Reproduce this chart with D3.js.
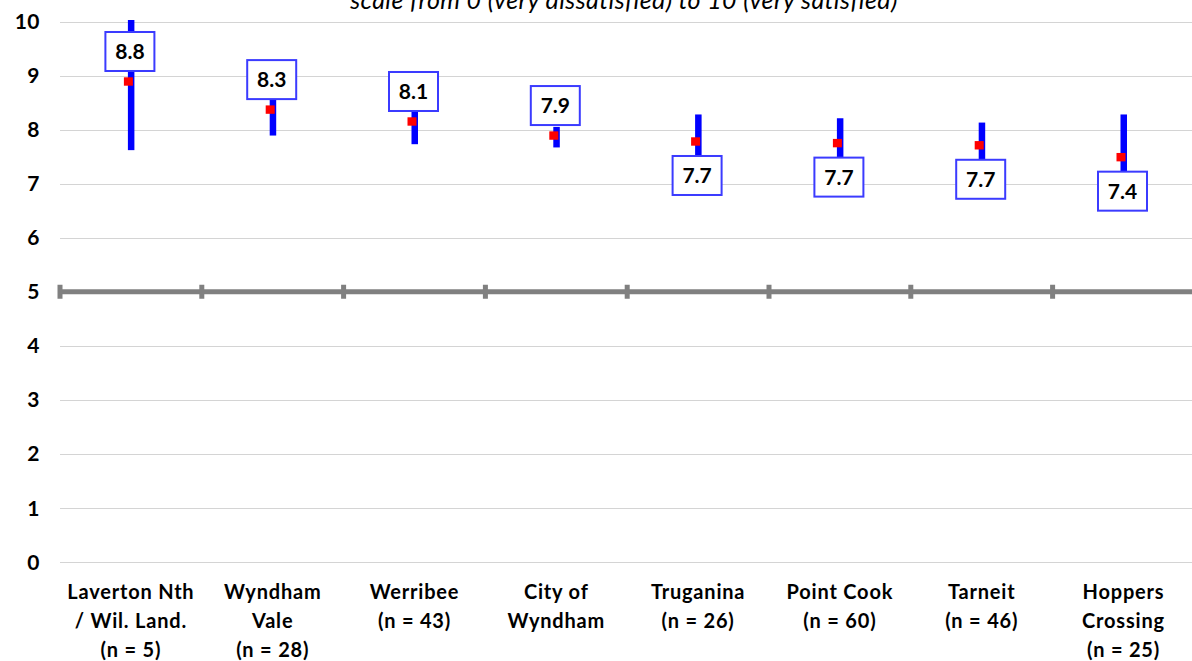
<!DOCTYPE html>
<html><head><meta charset="utf-8">
<script src="https://cdn.jsdelivr.net/npm/d3@7/dist/d3.min.js"></script>
<style>body{margin:0;background:#fff;overflow:hidden}</style>
</head><body>
<script>
const categories = ["Laverton Nth\n/ Wil. Land.\n(n = 5)", "Wyndham\nVale\n(n = 28)", "Werribee\n(n = 43)", "City of\nWyndham", "Truganina\n(n = 26)", "Point Cook\n(n = 60)", "Tarneit\n(n = 46)", "Hoppers\nCrossing\n(n = 25)"];
const means = [8.89, 8.37, 8.15, 7.89, 7.78, 7.75, 7.71, 7.49];
const lower = [7.62, 7.89, 7.73, 7.67, 7.28, 7.29, 7.29, 6.70];
const upper = [10.16, 8.85, 8.57, 8.05, 8.28, 8.21, 8.13, 8.28];
const valueLabels = ["8.8", "8.3", "8.1", "7.9", "7.7", "7.7", "7.7", "7.4"];
const labelAbove = [true, true, true, true, false, false, false, false];
const yTicks = [0, 1, 2, 3, 4, 5, 6, 7, 8, 9, 10];
const title = "scale from 0 (very dissatisfied) to 10 (very satisfied)";
const crossValue = 5;

const W = 1192, H = 661;
const FONT = "Lato, 'Open Sans', sans-serif";
const svg = d3.select("body").append("svg").attr("width", W).attr("height", H)
  .style("font-family", FONT);

const x = d3.scaleBand().domain(categories).range([60, 1194.4]).padding(0);
const y = d3.scaleLinear().domain([0, 10]).range([562, 21.5]);

svg.append("defs").append("clipPath").attr("id", "plot")
  .append("rect").attr("x", 0).attr("y", y(10) - 1.5).attr("width", W).attr("height", H);

// title (partly cut at the top edge, as in the reference)
svg.append("text").attr("x", 624).attr("y", 9).attr("text-anchor", "middle")
  .style("font-style", "italic").style("font-size", "25px").style("letter-spacing", "0.4px")
  .attr("fill", "#000").text(title);

// gridlines
svg.append("g").selectAll("line").data(yTicks.filter(d => d !== crossValue)).join("line")
  .attr("x1", 60).attr("x2", W).attr("y1", d => Math.round(y(d)) + 0.5).attr("y2", d => Math.round(y(d)) + 0.5)
  .attr("stroke", "#d4d4d4").attr("stroke-width", 1);

// y tick labels
svg.append("g").selectAll("text").data(yTicks).join("text")
  .attr("x", 40).attr("y", d => y(d)).attr("dy", "0.36em").attr("text-anchor", "end")
  .style("font-size", "21px").style("font-weight", "bold").style("letter-spacing", "0.5px")
  .attr("fill", "#000").text(d => d);

// horizontal axis crossing at 5
const ay = y(crossValue);
svg.append("line").attr("x1", 60).attr("x2", W).attr("y1", ay).attr("y2", ay)
  .attr("stroke", "#808080").attr("stroke-width", 5);
svg.append("g").selectAll("rect").data(categories).join("rect")
  .attr("x", d => x(d) - 2.5).attr("y", ay - 7).attr("width", 5).attr("height", 14).attr("fill", "#808080");

// x labels
const xl = svg.append("g").selectAll("text").data(categories).join("text")
  .attr("x", d => x(d) + x.bandwidth() / 2).attr("y", 599).attr("text-anchor", "middle")
  .style("font-size", "20px").style("font-weight", "bold").style("letter-spacing", "0.8px")
  .attr("fill", "#000");
xl.each(function(d) {
  const t = d3.select(this);
  d.split("\n").forEach((line, i) => {
    t.append("tspan").attr("x", x(d) + x.bandwidth() / 2).attr("y", 599 + i * 28.8).text(line);
  });
});

const rows = categories.map((c, i) => ({c, m: means[i], lo: lower[i], hi: upper[i], lab: valueLabels[i], above: labelAbove[i]}));
const cx = d => x(d.c) + x.bandwidth() / 2;

// error bars
svg.append("g").attr("clip-path", "url(#plot)").selectAll("rect").data(rows).join("rect")
  .attr("x", d => cx(d) - 3).attr("y", d => y(d.hi)).attr("width", 6.5)
  .attr("height", d => y(d.lo) - y(d.hi)).attr("fill", "#0000ff");

// mean markers
svg.append("g").selectAll("rect").data(rows).join("rect")
  .attr("x", d => cx(d) - 7).attr("y", d => y(d.m) - 4.2).attr("width", 9).attr("height", 8.4).attr("fill", "#ff0000");

// value label boxes
const lb = svg.append("g").selectAll("g").data(rows).join("g")
  .attr("transform", d => `translate(${cx(d) - 1},${y(d.m) + (d.above ? -30 : 34)})`);
lb.append("rect").attr("x", -24.5).attr("y", -19.5).attr("width", 49).attr("height", 39)
  .attr("fill", "#fff").attr("stroke", "#3b3bff").attr("stroke-width", 2);
lb.append("text").attr("text-anchor", "middle").attr("dy", "0.36em")
  .style("font-size", "21px").style("font-weight", "bold").attr("fill", "#000").text(d => d.lab);
</script>
</body></html>
